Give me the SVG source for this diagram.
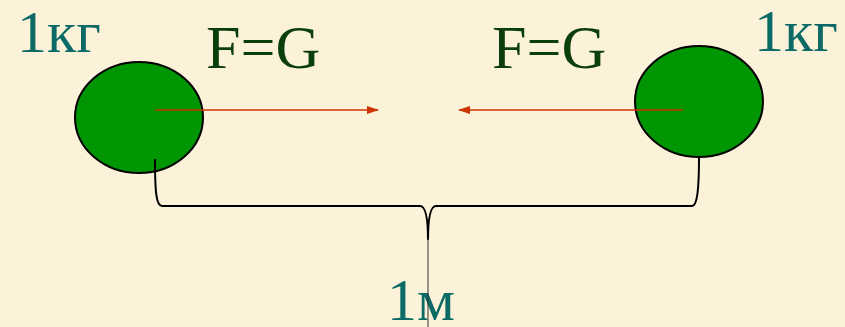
<svg xmlns="http://www.w3.org/2000/svg" width="845" height="327" viewBox="0 0 845 327">
<style>
.mass{font-family:"Liberation Serif","Times New Roman",serif;font-size:60px;fill:#0B6A66}
.force{font-family:"Liberation Serif","Times New Roman",serif;font-size:62px;fill:#0A3F0C}
.ball{fill:#009603;stroke:#000;stroke-width:2}
.arrow{stroke:#CC3300;stroke-width:1.6;fill:none}
.brace{stroke:#000;stroke-width:2;fill:none}
</style>
<defs>
<marker id="ah" viewBox="0 0 12 8" refX="11" refY="4" markerWidth="12" markerHeight="8" markerUnits="userSpaceOnUse" orient="auto">
<path d="M0,0 L12,4 L0,8 Z" fill="#CC3300"/>
</marker>
</defs>
<rect x="0" y="0" width="845" height="327" fill="#FCF2DA"/>
<g id="ball-left">
<ellipse class="ball" cx="139" cy="117.5" rx="64" ry="55.5"/>
<text class="mass" x="17" y="52">1кг</text>
</g>
<g id="ball-right">
<ellipse class="ball" cx="699" cy="101.5" rx="64" ry="55.5"/>
<text class="mass" x="754" y="51" font-size="59">1кг</text>
</g>
<g id="label-left"><text class="force" x="206" y="68">F=G</text></g>
<g id="label-right"><text class="force" x="492" y="68">F=G</text></g>
<g id="label-distance"><text class="mass" x="387" y="320">1м</text></g>
<g id="connectors">
<line class="arrow" x1="155" y1="110" x2="378" y2="110" marker-end="url(#ah)"/>
<line class="arrow" x1="683" y1="110" x2="459" y2="110" marker-end="url(#ah)"/>
<path class="brace" d="M155,159 C155,190 156,206 162,206 L420,206 C425,206 428,215 428,240 C428,215 431,206 436,206 L692,206 C697,206 699,190 699,158"/>
<line x1="428" y1="238" x2="428" y2="327" stroke="#333" stroke-width="1"/>
</g>
</svg>
